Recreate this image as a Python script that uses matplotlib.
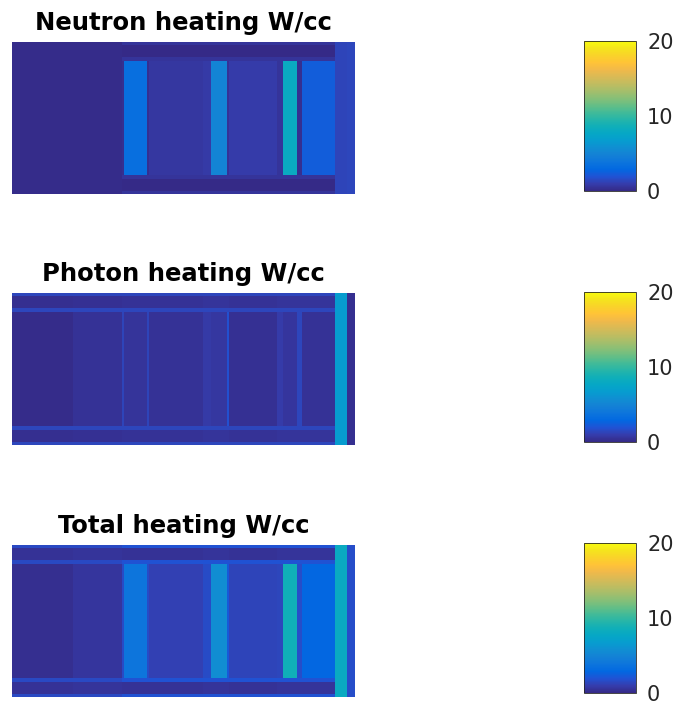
import numpy as np
import matplotlib
matplotlib.use("Agg")
import matplotlib.pyplot as plt
from matplotlib.colors import LinearSegmentedColormap

# parula-like colour map (MATLAB default)
parula_rgb = [
    (0.2081, 0.1663, 0.5292), (0.2081, 0.2386, 0.6771), (0.1253, 0.3242, 0.8303),
    (0.0060, 0.4086, 0.8828), (0.0498, 0.4586, 0.8641), (0.0779, 0.5040, 0.8384),
    (0.0641, 0.5570, 0.8240), (0.0265, 0.6137, 0.8135), (0.0228, 0.6535, 0.7768),
    (0.0590, 0.6838, 0.7254), (0.1453, 0.7098, 0.6646), (0.2586, 0.7317, 0.5954),
    (0.3953, 0.7459, 0.5244), (0.5300, 0.7491, 0.4661), (0.6473, 0.7456, 0.4188),
    (0.7525, 0.7384, 0.3768), (0.8507, 0.7299, 0.3360), (0.9450, 0.7261, 0.2886),
    (0.9990, 0.7653, 0.2164), (0.9789, 0.8271, 0.1633), (0.9589, 0.8949, 0.1132),
    (0.9763, 0.9831, 0.0538),
]
parula = LinearSegmentedColormap.from_list("parula", parula_rgb)

# zone boundaries (radial / axial, arbitrary units)
x_edges = [0, 61, 110, 112, 135, 137, 191, 199, 215, 217, 265, 271, 285, 290, 323, 335, 343]
z_edges = [0, 3, 15, 19, 133, 137, 149, 152]

# heating per zone, W/cc (16 radial zones)
neutron_main = [0.1, 0.15, 0.3, 3.4, 0.3, 0.7, 0.8, 5.0, 0.4, 0.9, 0.5, 8.0, 0.3, 2.4, 1.3, 1.4]
neutron_band = [0.1, 0.15, 0.0, 0.0, 0.0, 0.0, 0.0, 0.0, 0.0, 0.0, 0.0, 0.0, 0.0, 0.0, 1.3, 1.4]
neutron_line = [0.1, 0.15, 0.5, 0.5, 0.5, 0.5, 0.5, 0.5, 0.5, 0.5, 0.5, 0.5, 0.5, 0.5, 1.3, 1.4]

photon_main = [0.15, 0.4, 1.3, 0.5, 1.3, 0.4, 0.8, 0.7, 1.8, 0.35, 0.9, 0.6, 1.4, 0.45, 6.7, 0.3]
photon_band = [0.3, 0.35, 0.4, 0.45, 0.45, 0.45, 0.5, 0.5, 0.5, 0.45, 0.5, 0.5, 0.5, 0.5, 6.7, 0.3]
photon_line = [1.4, 1.4, 1.4, 1.4, 1.4, 1.4, 1.4, 1.4, 1.4, 1.4, 1.4, 1.4, 1.4, 1.4, 6.7, 0.3]

titles = ["Neutron heating W/cc", "Photon heating W/cc", "Total heating W/cc"]
cbar_ticks = [0, 10, 20]


def build(main, band, line):
    return np.array([line, band, line, main, line, band, line])


neutron = build(neutron_main, neutron_band, neutron_line)
photon = build(photon_main, photon_band, photon_line)
total = neutron + photon

fig = plt.figure(figsize=(6.78, 7.08), dpi=100)
W, H = 678, 708

img_tops = [42, 293, 545]
cb_tops = [41, 292, 543]

for data, title, top, cbt in zip([neutron, photon, total], titles, img_tops, cb_tops):
    ax = fig.add_axes([12 / W, (H - top - 152) / H, 343 / W, 152 / H])
    mesh = ax.pcolormesh(x_edges, z_edges, data, cmap=parula, vmin=0, vmax=20, shading="flat")
    ax.set_xlim(0, 343)
    ax.set_ylim(152, 0)
    ax.axis("off")
    ax.set_title(title, fontsize=17.5, fontweight="bold", pad=8.6)

    cax = fig.add_axes([584 / W, (H - cbt - 150) / H, 52 / W, 150 / H])
    cb = fig.colorbar(mesh, cax=cax, ticks=cbar_ticks)
    cb.outline.set_linewidth(0.6)
    cb.outline.set_edgecolor("#262626")
    cax.tick_params(length=0, pad=8, labelsize=15, labelcolor="#262626")

fig.savefig("out.png", dpi=100)
